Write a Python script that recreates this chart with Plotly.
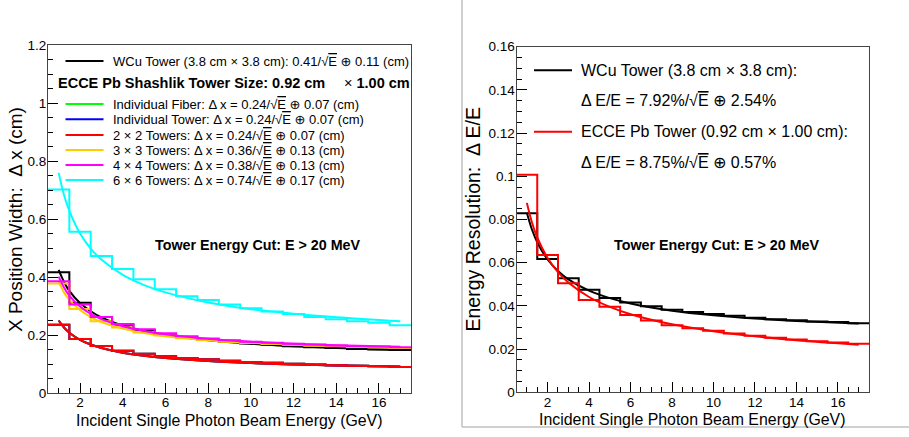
import plotly.graph_objects as go

W, H = 909, 437
FONT = "Liberation Sans, Arial, DejaVu Sans, sans-serif"

# ---------------- data ----------------
bin_edges = [0.5, 1.5, 2.5, 3.5, 4.5, 5.5, 6.5, 7.5, 8.5, 9.5, 10.5,
             11.5, 12.5, 13.5, 14.5, 15.5, 16.5, 17.5]
fit_energy = [1.0, 1.25, 1.5, 2.0, 2.5, 3.0, 4.0, 5.0, 6.0, 8.0, 10.0, 12.0, 14.0, 17.0]

# Left panel: X position width (cm), histograms (one value per 1 GeV bin)
pos_hist_wcu = [0.416, 0.311, 0.262, 0.235, 0.217, 0.201, 0.191, 0.183, 0.177,
                0.171, 0.166, 0.161, 0.158, 0.155, 0.152, 0.150, 0.148]
pos_hist_fiber = [0.235, 0.186, 0.162, 0.146, 0.135, 0.127, 0.121, 0.116, 0.111,
                  0.107, 0.104, 0.101, 0.098, 0.096, 0.094, 0.092, 0.090]
pos_hist_tower = [0.235, 0.186, 0.162, 0.146, 0.135, 0.127, 0.121, 0.116, 0.111,
                  0.107, 0.104, 0.101, 0.098, 0.096, 0.094, 0.092, 0.090]
pos_hist_2x2 = [0.235, 0.186, 0.162, 0.146, 0.135, 0.127, 0.121, 0.116, 0.111,
                0.107, 0.104, 0.101, 0.098, 0.096, 0.094, 0.092, 0.090]
pos_hist_3x3 = [0.378, 0.290, 0.247, 0.226, 0.209, 0.198, 0.189, 0.182, 0.177,
                0.172, 0.169, 0.166, 0.163, 0.161, 0.159, 0.157, 0.155]
pos_hist_4x4 = [0.385, 0.305, 0.262, 0.238, 0.220, 0.206, 0.196, 0.188, 0.182,
                0.177, 0.173, 0.170, 0.167, 0.164, 0.162, 0.160, 0.158]
pos_hist_6x6 = [0.702, 0.556, 0.472, 0.428, 0.392, 0.358, 0.334, 0.321, 0.305,
                0.292, 0.281, 0.272, 0.262, 0.254, 0.247, 0.242, 0.234]

# Left panel: fit curves sampled at fit_energy
pos_fit_wcu = [0.4245, 0.383, 0.352, 0.310, 0.282, 0.261, 0.233, 0.214, 0.200,
               0.182, 0.170, 0.1616, 0.1553, 0.1483]
pos_fit_fiber = [0.250, 0.2258, 0.208, 0.1836, 0.1671, 0.1552, 0.1389, 0.1281,
                 0.1204, 0.110, 0.1032, 0.0985, 0.0949, 0.0910]
pos_fit_tower = [0.250, 0.2258, 0.208, 0.1836, 0.1671, 0.1552, 0.1389, 0.1281,
                 0.1204, 0.110, 0.1032, 0.0985, 0.0949, 0.0910]
pos_fit_2x2 = [0.250, 0.2258, 0.208, 0.1836, 0.1671, 0.1552, 0.1389, 0.1281,
               0.1204, 0.110, 0.1032, 0.0985, 0.0949, 0.0910]
pos_fit_3x3 = [0.383, 0.347, 0.321, 0.286, 0.262, 0.245, 0.222, 0.207, 0.196,
               0.182, 0.1728, 0.1664, 0.1618, 0.1566]
pos_fit_4x4 = [0.4016, 0.364, 0.336, 0.2985, 0.273, 0.255, 0.230, 0.214, 0.2024,
               0.187, 0.177, 0.170, 0.165, 0.1594]
pos_fit_6x6 = [0.759, 0.683, 0.628, 0.550, 0.498, 0.460, 0.407, 0.372, 0.347,
               0.312, 0.289, 0.273, 0.261, 0.247]

# Right panel: energy resolution
res_hist_wcu = [0.0829, 0.0617, 0.0528, 0.0475, 0.0437, 0.0416, 0.0398, 0.0382,
                0.0372, 0.0362, 0.0354, 0.0345, 0.0338, 0.0333, 0.0328, 0.0325, 0.0320]
res_hist_pb = [0.1007, 0.0636, 0.0505, 0.0427, 0.0396, 0.0358, 0.0332, 0.0310,
               0.0297, 0.0285, 0.0272, 0.0262, 0.0252, 0.0244, 0.0236, 0.0230, 0.0225]
res_fit_wcu = [0.08317, 0.07525, 0.06948, 0.06149, 0.05616, 0.05231, 0.04705,
               0.04359, 0.04112, 0.0378, 0.03567, 0.03417, 0.03306, 0.03184]
res_fit_pb = [0.08769, 0.07847, 0.07167, 0.06213, 0.05563, 0.05084, 0.04412,
              0.03954, 0.03617, 0.03146, 0.02825, 0.02589, 0.02407, 0.02198]

SQ = "√<span style='text-decoration:overline'>E</span>"
left_labels = [
    "WCu Tower (3.8 cm × 3.8 cm): 0.41/" + SQ + " ⊕ 0.11 (cm)",
    "Individual Fiber: Δ x = 0.24/" + SQ + " ⊕ 0.07 (cm)",
    "Individual Tower: Δ x = 0.24/" + SQ + " ⊕ 0.07 (cm)",
    "2 × 2 Towers: Δ x = 0.24/" + SQ + " ⊕ 0.07 (cm)",
    "3 × 3 Towers: Δ x = 0.36/" + SQ + " ⊕ 0.13 (cm)",
    "4 × 4 Towers: Δ x = 0.38/" + SQ + " ⊕ 0.13 (cm)",
    "6 × 6 Towers: Δ x = 0.74/" + SQ + " ⊕ 0.17 (cm)",
]
right_labels = [
    "WCu Tower (3.8 cm × 3.8 cm):",
    "Δ E/E = 7.92%/" + SQ + " ⊕ 2.54%",
    "ECCE Pb Tower (0.92 cm × 1.00 cm):",
    "Δ E/E = 8.75%/" + SQ + " ⊕ 0.57%",
]

C_BLACK, C_GREEN, C_BLUE, C_RED = "#000000", "#00ff00", "#0000ff", "#ff0000"
C_ORANGE, C_MAGENTA, C_CYAN = "#ffcc00", "#ff00ff", "#00ffff"

# ---------------- figure ----------------
fig = go.Figure()


def px(x):
    return x / W


def py(y):
    return 1 - y / H


def add_hist(vals, color, xa, ya):
    fig.add_trace(go.Scatter(x=bin_edges, y=vals + [vals[-1]], mode="lines",
                             line=dict(color=color, width=2, shape="hv"),
                             xaxis=xa, yaxis=ya, showlegend=False, hoverinfo="skip"))


def add_fit(vals, color, xa, ya):
    fig.add_trace(go.Scatter(x=fit_energy, y=vals, mode="lines",
                             line=dict(color=color, width=2, shape="spline"),
                             xaxis=xa, yaxis=ya, showlegend=False, hoverinfo="skip"))


left_series = [
    (pos_hist_wcu, pos_fit_wcu, C_BLACK),
    (pos_hist_fiber, pos_fit_fiber, C_GREEN),
    (pos_hist_tower, pos_fit_tower, C_BLUE),
    (pos_hist_2x2, pos_fit_2x2, C_RED),
    (pos_hist_3x3, pos_fit_3x3, C_ORANGE),
    (pos_hist_4x4, pos_fit_4x4, C_MAGENTA),
    (pos_hist_6x6, pos_fit_6x6, C_CYAN),
]
for h, f, c in left_series:
    add_hist(h, c, "x", "y")
    add_fit(f, c, "x", "y")

add_hist(res_hist_wcu, C_BLACK, "x2", "y2")
add_fit(res_fit_wcu, C_BLACK, "x2", "y2")
add_hist(res_hist_pb, C_RED, "x2", "y2")
add_fit(res_fit_pb, C_RED, "x2", "y2")

axis_common = dict(
    showgrid=False, zeroline=False, showline=True, linecolor="#444", linewidth=1,
    mirror=True, ticks="inside", tickcolor="#000", ticklen=10, tickwidth=1,
    automargin=False,
    tickfont=dict(family=FONT, size=13.5, color="#000"),
)

fig.update_layout(
    width=W, height=H, margin=dict(l=0, r=0, t=0, b=0, autoexpand=False),
    paper_bgcolor="white", plot_bgcolor="white", showlegend=False,
    font=dict(family=FONT, color="#000"),
    xaxis=dict(domain=[px(48), px(411)], range=[0.5, 17.5], anchor="y",
               dtick=2, tick0=0, ticklabelstandoff=-3,
               minor=dict(dtick=0.5, ticks="inside", ticklen=5, tickcolor="#000"),
               **axis_common),
    yaxis=dict(domain=[py(393), py(45)], range=[0, 1.2], anchor="x",
               dtick=0.2, tick0=0, ticklabelstandoff=-2,
               minor=dict(dtick=0.05, ticks="inside", ticklen=5, tickcolor="#000"),
               **axis_common),
    xaxis2=dict(domain=[px(516.5), px(869)], range=[0.5, 17.5], anchor="y2",
                dtick=2, tick0=0, ticklabelstandoff=-3,
                minor=dict(dtick=0.5, ticks="inside", ticklen=5, tickcolor="#000"),
                **axis_common),
    yaxis2=dict(domain=[py(392.3), py(46.7)], range=[0, 0.16], anchor="x2",
                dtick=0.02, tick0=0, ticklabelstandoff=-2,
                minor=dict(dtick=0.005, ticks="inside", ticklen=5, tickcolor="#000"),
                **axis_common),
)

shapes = []
annotations = []


def text(x, y, s, size, xanchor="left", angle=0, bold=False):
    annotations.append(dict(
        x=px(x), y=py(y), xref="paper", yref="paper", text=("<b>%s</b>" % s) if bold else s,
        showarrow=False, xanchor=xanchor, yanchor="middle", textangle=angle,
        font=dict(family=FONT, size=size, color="#000")))


def legline(x0, x1, y, color):
    shapes.append(dict(type="line", xref="paper", yref="paper",
                       x0=px(x0), x1=px(x1), y0=py(y), y1=py(y),
                       line=dict(color=color, width=2)))


# right pad border (grey)
shapes.append(dict(type="line", xref="paper", yref="paper", x0=px(462), x1=px(462),
                   y0=py(0), y1=py(427), line=dict(color="#c0c0c0", width=1.5)))
shapes.append(dict(type="line", xref="paper", yref="paper", x0=px(462), x1=px(909),
                   y0=py(427), y1=py(427), line=dict(color="#c0c0c0", width=1.5)))

# left legend
left_rows_y = [61, 104, 119.3, 135, 150, 165, 180]
left_colors = [C_BLACK, C_GREEN, C_BLUE, C_RED, C_ORANGE, C_MAGENTA, C_CYAN]
for lab, yy, c in zip(left_labels, left_rows_y, left_colors):
    legline(65.5, 103.5, yy, c)
    text(111, yy, lab, 13)
text(56, 83.3, "ECCE Pb Shashlik Tower Size: 0.92 cm", 14.5, bold=True)
text(342, 83.3, "× <b>1.00 cm</b>", 14.5)
text(153, 245, "Tower Energy Cut: E > 20 MeV", 14.3, bold=True)

# right legend
right_rows_y = [70.3, 100.7, 131.7, 162.7]
legline(534, 572, right_rows_y[0], C_BLACK)
legline(534, 572, right_rows_y[2], C_RED)
for lab, yy in zip(right_labels, right_rows_y):
    text(579, yy, lab, 16)
text(611.5, 245, "Tower Energy Cut: E > 20 MeV", 14.3, bold=True)

# axis titles
text(229.5, 420, "Incident Single Photon Beam Energy (GeV)", 15.9, xanchor="center")
text(692.5, 419, "Incident Single Photon Beam Energy (GeV)", 15.9, xanchor="center")
text(15.5, 219.5, "X Position Width:  Δ x (cm)", 19, xanchor="center", angle=-90)
text(472.5, 220, "Energy Resolution:  Δ E/E", 19.5, xanchor="center", angle=-90)

fig.update_layout(shapes=shapes, annotations=annotations)
fig.write_html("out.html", config={"displayModeBar": False},
               post_script="document.body.style.margin='0';document.body.style.padding='0';")
